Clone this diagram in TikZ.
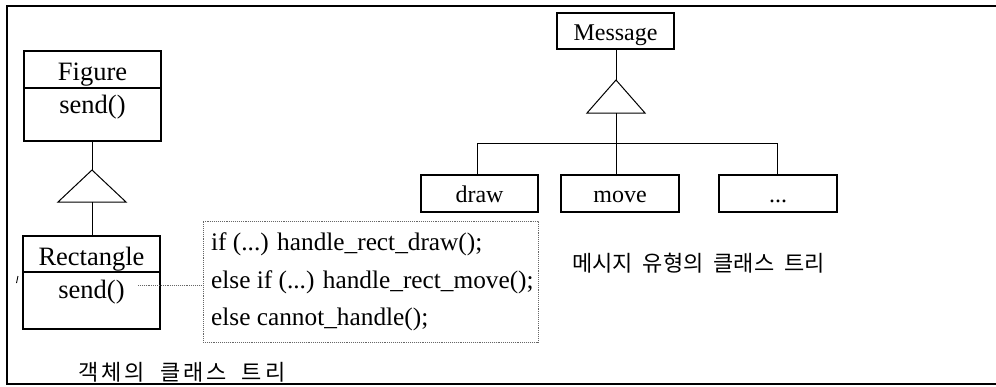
\documentclass[tikz,border=0pt]{standalone}
\usepackage{fontspec}
\setmainfont{Liberation Serif}
\newfontfamily\krA[LetterSpace=14]{Noto Sans CJK KR}
\newfontfamily\krB{Noto Sans CJK KR}
\begin{document}
\begin{tikzpicture}[x=1pt,y=-1pt,
  font=\fontsize{24}{28}\selectfont,
  cls/.style={draw, line width=1.2pt, inner sep=0pt},
  sep/.style={line width=2.6pt},
  lbl/.style={anchor=base, inner sep=0pt},
  biglbl/.style={lbl, font=\fontsize{26.5}{30}\selectfont},
  conn/.style={line width=1pt},
  tri/.style={draw, line width=1pt},
  codebox/.style={draw=black!60, densely dotted, line width=0.9pt, inner sep=0pt},
  codeline/.style={anchor=base west, inner sep=0pt, font=\fontsize{25.3}{28}\selectfont},
  caption/.style={anchor=base west, inner sep=0pt, font=\fontsize{22}{24}\selectfont}]
\useasboundingbox (0,0) rectangle (996,386);
% outer frame
\draw[line width=1.4pt] (996,6) -- (7,6) -- (7,384) -- (996,384);

% ---- left: class tree of objects
\node[cls, minimum width=137pt, minimum height=90pt] (fig) at (92.5,96) {};
\draw[sep] (fig.west |- 0,88) -- (fig.east |- 0,88);
\node[biglbl] (figname) at (92.5,80) {Figure};
\node[biglbl] (figsend) at (92.5,113) {send()};

\coordinate (t1top) at (92,170);
\coordinate (t1l) at (58,202);
\coordinate (t1r) at (126,202);
\coordinate (t1b) at (92,202);
\draw[tri] (t1top) -- (t1l) -- (t1r) -- cycle;
\draw[conn] (fig.south -| t1top) -- (t1top);

\node[cls, minimum width=137pt, minimum height=93pt] (rect) at (91.5,282.5) {};
\draw[sep] (rect.west |- 0,272) -- (rect.east |- 0,272);
\node[biglbl] (rectname) at (91.5,265) {Rectangle};
\node[biglbl] (rectsend) at (91.5,298) {send()};
\draw[conn] (t1b) -- (rect.north -| t1b);
\draw[line width=0.9pt] (18,276) -- (16.5,283);

% code box
\node[codebox, minimum width=335pt, minimum height=121pt] (code) at (370.5,281.5) {};
\node[codeline] (c1) at (211,250) {if (...) handle\_rect\_draw();};
\node[codeline] (c2) at (211,288) {else if (...) handle\_rect\_move();};
\node[codeline] (c3) at (211,325) {else cannot\_handle();};
\coordinate (sendr) at (138,285);
\draw[black!60, densely dotted, line width=0.9pt] (sendr) -- (sendr -| code.west);

\node[caption] (capL) at (78,380) {\krA 객체의\hspace{15pt}클래스\hspace{15pt}트리};

% ---- right: class tree of message types
\node[cls, minimum width=117pt, minimum height=36pt] (msg) at (615.5,31) {};
\node[lbl] (msgname) at (615.5,40) {Message};
\coordinate (t2top) at (616,80);
\coordinate (t2l) at (587,113);
\coordinate (t2r) at (645,113);
\coordinate (t2b) at (616,113);
\draw[tri] (t2top) -- (t2l) -- (t2r) -- cycle;
\draw[conn] (msg.south -| t2top) -- (t2top);

\node[cls, minimum width=117pt, minimum height=37pt] (draw) at (479.5,193.5) {};
\node[cls, minimum width=118pt, minimum height=37pt] (move) at (620,193.5) {};
\node[cls, minimum width=118pt, minimum height=37pt] (etc) at (778,193.5) {};
\node[lbl] (drawt) at (479.5,202) {draw};
\node[lbl] (movet) at (620,202) {move};
\node[lbl] (etct) at (778,202) {...};

\coordinate (bus) at (616,143);
\draw[conn] (t2b) -- (bus);
\draw[conn] (draw.north -| 477,0) -- (477,143) -- (777,143) -- (etc.north -| 777,0);
\draw[conn] (bus) -- (move.north -| bus);

\node[caption] (capR) at (572,271) {\krB 메시지\hspace{10pt}유형의\hspace{10pt}클래스\hspace{10pt}트리};
\end{tikzpicture}
\end{document}
